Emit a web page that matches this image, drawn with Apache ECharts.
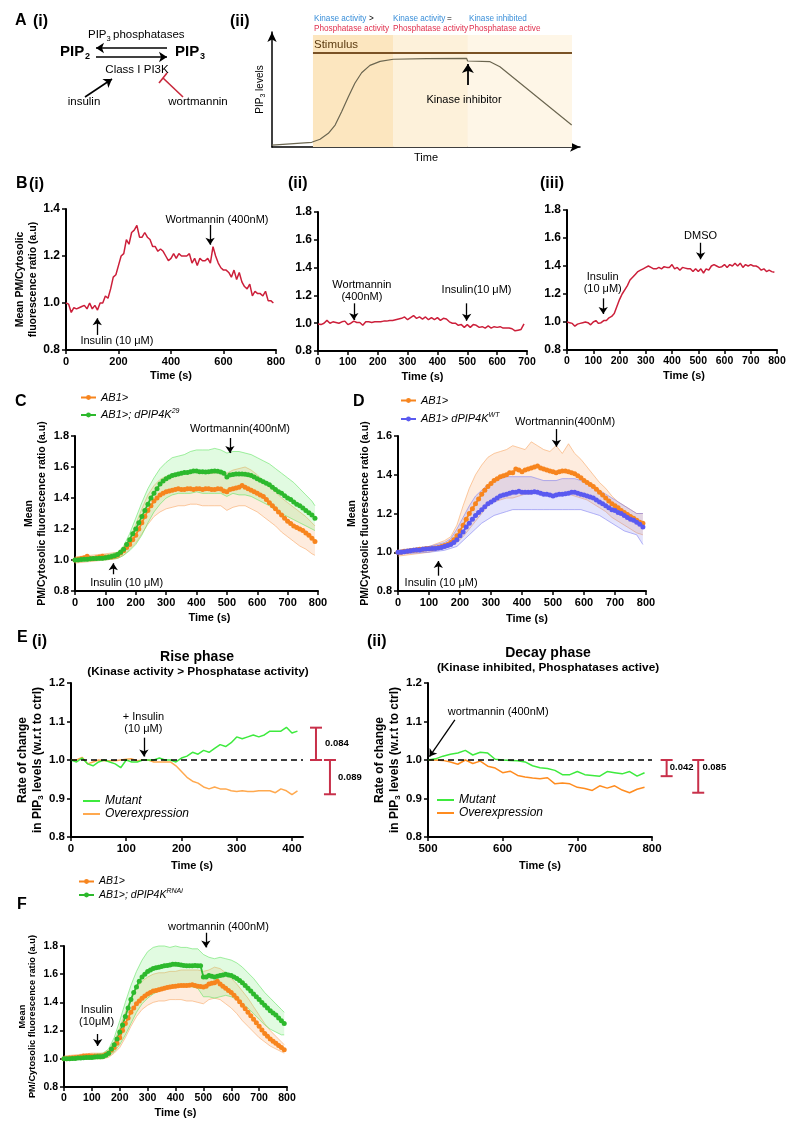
<!DOCTYPE html>
<html>
<head>
<meta charset="utf-8">
<title>PIP3 dynamics</title>
<script src="https://cdn.jsdelivr.net/npm/echarts@6/dist/echarts.min.js"></script>
<style>html,body{margin:0;padding:0;background:#fff;}#chart{width:800px;height:1135px;}</style>
</head>
<body>
<div id="chart"></div>
<script>
// ================= DATA =================
const T80 = [0,10,20,30,40,50,60,70,80,90,100,110,120,130,140,150,160,170,180,190,200,210,220,230,240,250,260,270,280,290,300,310,320,330,340,350,360,370,380,390,400,410,420,430,440,450,460,470,480,490,500,510,520,530,540,550,560,570,580,590,600,610,620,630,640,650,660,670,680,690,700,710,720,730,740,750,760,770,780,790];
const T70 = [0,10,20,30,40,50,60,70,80,90,100,110,120,130,140,150,160,170,180,190,200,210,220,230,240,250,260,270,280,290,300,310,320,330,340,350,360,370,380,390,400,410,420,430,440,450,460,470,480,490,500,510,520,530,540,550,560,570,580,590,600,610,620,630,640,650,660,670,680,690];
const T42 = [0,10,20,30,40,50,60,70,80,90,100,110,120,130,140,150,160,170,180,190,200,210,220,230,240,250,260,270,280,290,300,310,320,330,340,350,360,370,380,390,400,410];
const TE2 = [500,510,520,530,540,550,560,570,580,590,600,610,620,630,640,650,660,670,680,690,700,710,720,730,740,750,760,770,780,790];
const TBAND_CF = [0,100,140,160,180,200,220,240,260,280,300,320,340,360,380,400,420,440,460,480,500,520,540,560,580,600,620,640,660,680,700,720,740,760,780,790];
const TBAND_D = [0,100,150,170,190,210,230,250,270,290,310,330,350,370,390,410,430,450,470,490,510,530,550,570,590,610,630,650,670,690,710,730,750,770,790];

// A(ii) schematic curve (arbitrary units 0-100)
const A_X = [0,12.9,15.6,18.3,20.5,22.6,24.8,26.9,29.1,31.8,35.1,39.4,50.2,63.2,63.5,70.8,74.0,97.3];
const A_Y = [1.7,4.1,6.7,11.9,19.1,30.7,43.7,55.4,64.6,71.0,74.5,76.3,76.8,77.1,74.8,74.2,69.8,19.1];
const A_PHASES = [13.3,39.3,63.6,97.4];
const A_STIM = 81.7;
const A_INHIB = 63.6;

// B
const B1 = [1.00,0.995,0.96,0.98,0.975,0.98,0.985,0.99,0.975,1.00,
 0.975,0.99,0.97,1.00,1.00,1.03,1.02,1.06,1.11,1.12,
 1.16,1.20,1.21,1.27,1.25,1.30,1.31,1.33,1.28,1.28,
 1.30,1.28,1.27,1.24,1.24,1.22,1.23,1.22,1.20,1.18,
 1.19,1.21,1.19,1.21,1.20,1.20,1.20,1.21,1.17,1.19,
 1.16,1.19,1.18,1.18,1.19,1.17,1.24,1.20,1.17,1.15,
 1.14,1.14,1.13,1.11,1.14,1.10,1.13,1.09,1.07,1.06,
 1.08,1.03,1.05,1.04,1.04,1.03,1.05,1.01,1.01,1.00];
const B2 = [0.995,0.99,1.0,1.02,1.0,1.01,1.005,1.0,1.01,1.015,
 0.99,1.0,1.015,1.005,1.005,0.985,1.01,1.01,1.005,1.01,
 1.01,1.01,1.015,1.015,1.02,1.02,1.025,1.03,1.035,1.045,
 1.025,1.04,1.055,1.035,1.045,1.03,1.045,1.025,1.04,1.025,
 1.04,1.02,1.035,1.03,1.01,1.0,1.0,0.985,0.99,0.97,
 0.99,0.97,0.99,0.985,0.97,0.975,0.965,0.98,0.965,0.975,
 0.97,0.975,0.965,0.965,0.965,0.96,0.945,0.95,0.955,0.995];
const B3 = [1.0,0.995,0.99,0.97,0.985,0.99,0.995,1.0,0.995,0.98,
 1.0,1.01,0.99,0.995,1.01,1.01,1.03,1.04,1.06,1.11,
 1.16,1.2,1.23,1.26,1.3,1.32,1.34,1.36,1.37,1.38,
 1.39,1.4,1.39,1.38,1.38,1.39,1.38,1.395,1.39,1.39,
 1.41,1.38,1.39,1.37,1.39,1.385,1.38,1.38,1.36,1.38,
 1.36,1.38,1.35,1.38,1.37,1.40,1.41,1.40,1.39,1.395,
 1.41,1.39,1.41,1.40,1.42,1.40,1.42,1.39,1.41,1.40,
 1.41,1.40,1.40,1.39,1.37,1.38,1.36,1.37,1.36,1.355];

// C
const C_CTRL = [1.000,1.005,1.010,1.015,1.025,1.010,1.010,1.015,1.020,1.025,
 1.020,1.020,1.020,1.025,1.030,1.045,1.060,1.080,1.100,1.130,
 1.160,1.200,1.240,1.280,1.320,1.350,1.380,1.400,1.420,1.430,
 1.440,1.445,1.450,1.455,1.460,1.455,1.455,1.460,1.460,1.455,
 1.460,1.460,1.455,1.460,1.460,1.455,1.455,1.460,1.458,1.445,
 1.440,1.455,1.460,1.465,1.470,1.480,1.470,1.460,1.450,1.440,
 1.430,1.420,1.410,1.390,1.370,1.350,1.330,1.310,1.290,1.270,
 1.250,1.235,1.220,1.210,1.200,1.190,1.175,1.160,1.140,1.120];
const C_MUT = [1.000,1.000,1.003,1.005,1.005,1.008,1.010,1.010,1.012,1.012,
 1.015,1.018,1.022,1.028,1.035,1.050,1.070,1.100,1.130,1.170,
 1.200,1.240,1.280,1.320,1.360,1.400,1.430,1.460,1.490,1.510,
 1.525,1.535,1.545,1.550,1.555,1.560,1.565,1.565,1.570,1.575,
 1.575,1.570,1.570,1.568,1.570,1.572,1.575,1.572,1.568,1.560,
 1.535,1.548,1.552,1.555,1.555,1.555,1.553,1.550,1.545,1.535,
 1.525,1.515,1.505,1.495,1.485,1.470,1.455,1.440,1.430,1.415,
 1.400,1.390,1.375,1.360,1.350,1.335,1.320,1.305,1.290,1.270];
const C_CTRL_LO = [0.98,1.00,1.01,1.03,1.07,1.11,1.17,1.23,1.28,1.31,1.33,1.34,1.35,1.35,1.36,1.36,1.35,1.35,1.35,1.35,1.32,1.34,1.35,1.35,1.33,1.31,1.28,1.25,1.22,1.18,1.15,1.12,1.09,1.07,1.04,1.03];
const C_CTRL_HI = [1.02,1.04,1.05,1.08,1.14,1.23,1.33,1.42,1.48,1.52,1.54,1.55,1.56,1.56,1.57,1.57,1.56,1.56,1.56,1.57,1.56,1.58,1.59,1.60,1.58,1.55,1.51,1.47,1.44,1.40,1.37,1.34,1.31,1.28,1.24,1.22];
const C_MUT_LO = [0.99,1.00,1.01,1.03,1.06,1.10,1.16,1.24,1.31,1.36,1.40,1.42,1.43,1.43,1.43,1.44,1.43,1.43,1.43,1.43,1.41,1.43,1.42,1.42,1.41,1.39,1.37,1.35,1.32,1.30,1.28,1.26,1.24,1.22,1.20,1.19];
const C_MUT_HI = [1.01,1.03,1.05,1.09,1.17,1.27,1.37,1.46,1.53,1.59,1.63,1.66,1.67,1.68,1.70,1.71,1.71,1.71,1.72,1.71,1.69,1.70,1.70,1.69,1.68,1.66,1.64,1.62,1.59,1.56,1.53,1.50,1.46,1.42,1.38,1.35];

// D
const D_CTRL = [1.000,1.000,1.005,1.005,1.008,1.010,1.012,1.015,1.015,1.018,
 1.020,1.020,1.022,1.025,1.030,1.035,1.040,1.050,1.065,1.085,
 1.110,1.140,1.170,1.200,1.225,1.250,1.275,1.300,1.320,1.340,
 1.355,1.370,1.380,1.390,1.395,1.400,1.410,1.410,1.430,1.425,
 1.415,1.425,1.430,1.435,1.440,1.445,1.435,1.430,1.425,1.420,
 1.415,1.410,1.415,1.420,1.420,1.415,1.410,1.405,1.395,1.385,
 1.370,1.360,1.350,1.340,1.325,1.310,1.295,1.280,1.265,1.250,
 1.240,1.230,1.215,1.205,1.195,1.185,1.175,1.165,1.155,1.150];
const D_WT = [1.000,1.000,1.003,1.005,1.008,1.010,1.012,1.012,1.015,1.017,
 1.018,1.020,1.020,1.022,1.025,1.030,1.035,1.040,1.050,1.065,
 1.085,1.105,1.130,1.150,1.170,1.190,1.205,1.220,1.235,1.250,
 1.260,1.270,1.280,1.290,1.295,1.300,1.305,1.310,1.310,1.315,
 1.310,1.310,1.310,1.310,1.312,1.310,1.305,1.300,1.300,1.295,
 1.290,1.295,1.300,1.300,1.302,1.305,1.310,1.310,1.305,1.300,
 1.295,1.290,1.285,1.280,1.270,1.260,1.250,1.240,1.230,1.220,
 1.215,1.205,1.200,1.190,1.180,1.170,1.165,1.155,1.145,1.130];
const D_CTRL_LO = [0.98,1.00,1.02,1.03,1.05,1.08,1.12,1.16,1.20,1.24,1.26,1.27,1.28,1.28,1.29,1.30,1.30,1.31,1.30,1.30,1.29,1.30,1.30,1.29,1.28,1.27,1.25,1.23,1.21,1.18,1.16,1.14,1.12,1.10,1.09];
const D_CTRL_HI = [1.01,1.03,1.06,1.08,1.14,1.24,1.33,1.40,1.45,1.49,1.51,1.52,1.53,1.55,1.54,1.53,1.57,1.55,1.53,1.52,1.55,1.51,1.56,1.51,1.48,1.44,1.40,1.36,1.33,1.29,1.26,1.24,1.22,1.20,1.20];
const D_WT_LO = [0.99,1.00,1.01,1.02,1.03,1.06,1.09,1.12,1.15,1.17,1.19,1.20,1.21,1.22,1.22,1.22,1.22,1.22,1.22,1.22,1.22,1.22,1.22,1.22,1.22,1.21,1.20,1.19,1.17,1.15,1.13,1.11,1.10,1.09,1.04];
const D_WT_HI = [1.01,1.03,1.05,1.07,1.12,1.18,1.24,1.29,1.32,1.35,1.37,1.38,1.39,1.39,1.39,1.39,1.39,1.38,1.37,1.37,1.37,1.38,1.38,1.38,1.37,1.36,1.34,1.32,1.30,1.28,1.26,1.24,1.22,1.20,1.20];

// E
const E1_MUT = [1.0,0.995,1.005,0.99,0.985,0.995,1.0,0.995,0.99,0.98,
 1.0,0.995,0.995,1.0,1.0,1.0,1.005,1.0,1.0,0.995,
 1.005,1.01,1.02,1.015,1.025,1.02,1.03,1.04,1.035,1.045,
 1.06,1.055,1.06,1.065,1.06,1.065,1.075,1.075,1.075,1.085,
 1.07,1.075];
const E1_OE = [1.0,1.0,1.007,0.99,0.995,1.0,0.998,0.998,0.998,1.0,
 1.002,1.003,0.998,1.0,1.0,0.995,0.995,0.995,0.995,0.985,
 0.97,0.955,0.945,0.94,0.93,0.925,0.93,0.925,0.925,0.92,
 0.918,0.92,0.918,0.918,0.92,0.92,0.92,0.915,0.925,0.92,
 0.91,0.92];
const E2_MUT = [1.0,1.003,1.01,1.015,1.018,1.025,1.013,1.02,1.018,1.002,
 1.0,0.999,0.998,0.995,0.985,0.98,0.978,0.973,0.962,0.962,
 0.97,0.962,0.96,0.958,0.97,0.967,0.964,0.97,0.958,0.967];
const E2_OE = [1.0,1.0,0.999,0.995,0.989,1.0,0.991,0.997,0.984,0.979,
 0.967,0.971,0.96,0.956,0.953,0.951,0.954,0.938,0.94,0.938,
 0.929,0.926,0.921,0.933,0.927,0.933,0.922,0.915,0.924,0.929];
const ERR_RISE = [0.084, -0.089];
const ERR_DECAY = [-0.042, -0.085];

// F
const F_CTRL = [1.000,1.000,1.005,1.008,1.010,1.010,1.015,1.020,1.020,1.022,
 1.020,1.020,1.020,1.020,1.022,1.030,1.040,1.060,1.080,1.110,
 1.150,1.200,1.250,1.290,1.330,1.360,1.390,1.410,1.430,1.445,
 1.460,1.470,1.480,1.485,1.490,1.495,1.500,1.505,1.510,1.512,
 1.515,1.518,1.520,1.520,1.520,1.522,1.525,1.520,1.515,1.512,
 1.510,1.515,1.530,1.535,1.540,1.550,1.530,1.515,1.500,1.485,
 1.470,1.450,1.430,1.405,1.380,1.355,1.330,1.305,1.280,1.255,
 1.230,1.205,1.180,1.160,1.140,1.125,1.110,1.095,1.080,1.065];
const F_RNAI = [1.000,1.000,1.000,1.002,1.003,1.005,1.005,1.008,1.010,1.010,
 1.010,1.012,1.015,1.015,1.017,1.025,1.040,1.070,1.100,1.140,
 1.190,1.240,1.300,1.360,1.420,1.470,1.510,1.550,1.580,1.600,
 1.620,1.630,1.640,1.645,1.650,1.655,1.660,1.662,1.665,1.670,
 1.670,1.668,1.665,1.662,1.660,1.660,1.660,1.662,1.660,1.660,
 1.580,1.580,1.590,1.585,1.580,1.585,1.590,1.595,1.600,1.595,
 1.590,1.580,1.570,1.555,1.540,1.520,1.500,1.480,1.460,1.440,
 1.420,1.400,1.380,1.360,1.340,1.325,1.310,1.290,1.270,1.250];
const F_CTRL_LO = [0.99,1.00,1.00,1.01,1.04,1.08,1.15,1.23,1.30,1.35,1.38,1.40,1.41,1.41,1.42,1.42,1.42,1.41,1.41,1.40,1.39,1.42,1.43,1.42,1.39,1.36,1.32,1.27,1.23,1.19,1.15,1.12,1.09,1.07,1.05,1.04];
const F_CTRL_HI = [1.02,1.04,1.04,1.06,1.12,1.22,1.33,1.43,1.50,1.55,1.58,1.60,1.61,1.61,1.62,1.62,1.63,1.63,1.63,1.63,1.62,1.63,1.65,1.64,1.61,1.57,1.53,1.48,1.43,1.37,1.31,1.25,1.20,1.16,1.12,1.10];
const F_RNAI_LO = [0.99,1.00,1.00,1.02,1.05,1.10,1.17,1.25,1.33,1.39,1.43,1.46,1.48,1.50,1.51,1.52,1.52,1.52,1.51,1.50,1.44,1.44,1.43,1.44,1.45,1.44,1.42,1.39,1.36,1.32,1.28,1.24,1.21,1.19,1.17,1.17];
const F_RNAI_HI = [1.01,1.03,1.04,1.07,1.15,1.27,1.40,1.52,1.62,1.70,1.76,1.79,1.80,1.80,1.79,1.80,1.79,1.79,1.78,1.78,1.74,1.72,1.71,1.72,1.71,1.70,1.68,1.65,1.61,1.57,1.52,1.47,1.43,1.39,1.35,1.33];

const X_TICKS_E1 = [0,100,200,300,400];

// ================= STYLE / LAYOUT =================
const FONT = '"Liberation Sans", Arial, Helvetica, sans-serif';
const COL = {
  red:'#CC1F3A', orange:'#F7851E', green:'#2DB92D', blue:'#5A5AF0',
  eGreen:'#3EEA3E', eOrange1:'#FFA94F', eOrange2:'#FF8C1F', err:'#C8304A',
  oBandFill:'rgba(250,160,90,0.20)', oBandLine:'rgba(248,160,90,0.55)',
  gBandFill:'rgba(120,235,120,0.22)', gBandLine:'rgba(100,228,100,0.6)',
  bBandFill:'rgba(130,130,240,0.22)', bBandLine:'rgba(120,120,240,0.55)'
};
const G = {
  A1:{l:0,t:0,w:260,h:150},
  A2:{l:272,t:32,w:308,h:115},
  B1:{l:66,t:209,w:210,h:141},
  B2:{l:318,t:212,w:209,h:139},
  B3:{l:567,t:210,w:210,h:140},
  C:{l:75,t:436,w:243,h:155},
  D:{l:398,t:436,w:248,h:155},
  E1:{l:71,t:683,w:232,h:154},
  E2:{l:428,t:683,w:224,h:154},
  F:{l:64,t:946,w:223,h:141}
};

const grids=[], xAxes=[], yAxes=[], series=[], legends=[], graphics=[];
function zip(t,v){ return t.map((x,i)=>[x,v[i]]); }
function addGrid(g, xa, ya){
  const i = grids.length;
  grids.push({left:g.l, top:g.t, width:g.w, height:g.h});
  xa.gridIndex = i; ya.gridIndex = i;
  xAxes.push(xa); yAxes.push(ya);
  return i;
}
function hiddenAxis(min, max, inverse){ return {type:'value', min:min, max:max, inverse:!!inverse, show:false, splitLine:{show:false}}; }
function axisBase(min, max, interval, fs, fmt){
  return {
    type:'value', min:min, max:max, interval:interval,
    axisLine:{show:true, onZero:false, lineStyle:{color:'#000', width:2}},
    axisTick:{show:true, inside:false, length:4, lineStyle:{color:'#000', width:1.5}},
    axisLabel:{show:true, color:'#000', fontFamily:FONT, fontWeight:'bold', fontSize:fs, margin:6, formatter:fmt},
    splitLine:{show:false}
  };
}
function dataPanel(g, xr, xi, yr, yi, o){
  const xa = axisBase(xr[0], xr[1], xi, o.xfs, v=>String(v));
  xa.name = 'Time (s)'; xa.nameLocation = 'middle'; xa.nameGap = o.xgap;
  xa.nameTextStyle = {fontFamily:FONT, fontWeight:'bold', fontSize:11, color:'#000', padding:o.xpad||0};
  if (o.xCustom){ xa.axisLabel.customValues = o.xCustom; xa.axisTick.customValues = o.xCustom; }
  const ya = axisBase(yr[0], yr[1], yi, o.yfs, v=>v.toFixed(1));
  if (o.yname){
    ya.name = o.yname; ya.nameLocation = 'middle'; ya.nameGap = o.ygap; ya.nameRotate = 90;
    ya.nameTextStyle = Object.assign({fontFamily:FONT, fontWeight:'bold', color:'#000'}, o.ynameStyle);
  }
  return addGrid(g, xa, ya);
}
// annotation layer: same scale as the panel, but a wider extent (stays inside the canvas)
function overlay(g, xr, yr, fr){
  const fl=0.25, ft=0.3, fb=0.3;
  fr = (fr===undefined) ? 0.5 : fr;
  const dx = xr[1]-xr[0], dy = yr[1]-yr[0];
  const og = {l:g.l-fl*g.w, t:g.t-ft*g.h, w:g.w*(1+fl+fr), h:g.h*(1+ft+fb)};
  return addGrid(og, hiddenAxis(xr[0]-fl*dx, xr[1]+fr*dx), hiddenAxis(yr[0]-fb*dy, yr[1]+ft*dy));
}
function annotate(oi, texts, arrows){
  series.push({
    type:'line', xAxisIndex:oi, yAxisIndex:oi, data:[[xAxes[oi].min, yAxes[oi].min]],
    symbol:'none', silent:true, lineStyle:{opacity:0}, z:10, animation:false,
    markPoint:{silent:true, animation:false, symbol:'circle', symbolSize:1, itemStyle:{color:'rgba(0,0,0,0)'},
      data:texts.map(a=>({coord:[a.x,a.y], label:{show:true, position:'inside', formatter:a.text,
        color:a.color||'#000', fontFamily:FONT, fontSize:a.fs||11, fontWeight:a.bold?'bold':'normal',
        lineHeight:a.lh||12, align:'center', verticalAlign:'middle'}}))},
    markLine:{silent:true, animation:false, symbol:['none','arrow'], symbolSize:7, label:{show:false},
      emphasis:{disabled:true}, lineStyle:{color:'#000', width:1.3, type:'solid'},
      data:arrows.map(a=>[{coord:[a.x1,a.y1]},{coord:[a.x2,a.y2]}])}
  });
}
function errBar(oi, x, base, delta){
  series.push({type:'line', xAxisIndex:oi, yAxisIndex:oi, data:[[x,base],[x,base+delta]],
    symbol:'rect', symbolSize:[12,2], showSymbol:true, silent:true, z:9, animation:false,
    lineStyle:{color:COL.err, width:2}, itemStyle:{color:COL.err}});
}
function lineSeries(name, gi, t, v, color, width, withDots){
  const s = {name:name, type:'line', xAxisIndex:gi, yAxisIndex:gi, data:zip(t,v), silent:true,
    symbol: withDots?'circle':'none', symbolSize:5, showSymbol:!!withDots,
    lineStyle:{color:color, width:width}, itemStyle:{color:color}, animation:false};
  series.push(s); return s;
}
// SEM band drawn as a polygon through the axis scales
function band(gi, t, lo, hi, lineCol, fillCol){
  const rows = t.map((x,i)=>[x, lo[i], hi[i]]);
  series.push({type:'custom', xAxisIndex:gi, yAxisIndex:gi, data:rows, silent:true, animation:false,
    encode:{x:0, y:[1,2]},
    renderItem:function(params, api){
      if (params.dataIndex !== 0) return null;
      const top = rows.map(r=>api.coord([r[0], r[2]]));
      const bot = rows.map(r=>api.coord([r[0], r[1]]));
      return {type:'group', children:[
        {type:'polygon', shape:{points:top.concat(bot.slice().reverse())}, style:{fill:fillCol, stroke:null}},
        {type:'polyline', shape:{points:top}, style:{stroke:lineCol, fill:null, lineWidth:1}},
        {type:'polyline', shape:{points:bot}, style:{stroke:lineCol, fill:null, lineWidth:1}}
      ]};
    }});
}
function gtext(text, x, y, o){
  o = o || {};
  const font = (o.italic?'italic ':'') + (o.bold?'bold ':'') + (o.fs||11) + 'px ' + FONT;
  const al = o.align || 'left';
  return {type:'text', x:x, y:y, z:100, silent:true,
    style:{text:text, fill:o.color||'#000', font:font, textAlign:al, textVerticalAlign:'middle', align:al, verticalAlign:'middle'}};
}

// ================= A(i) schematic =================
const a1 = addGrid(G.A1, hiddenAxis(0,260), hiddenAxis(0,150,true));
const A1_LINES = [
  {p:[[167,48],[96,48]], c:'#000', arrow:true},
  {p:[[96,57],[167,57]], c:'#000', arrow:true},
  {p:[[85,97],[112,79]], c:'#000', arrow:true},
  {p:[[183,97],[163,78]], c:'#C8283C', arrow:false},
  {p:[[159,83],[167,73]], c:'#C8283C', arrow:false}
];
series.push({type:'line', xAxisIndex:a1, yAxisIndex:a1, data:[[0,0]], symbol:'none', silent:true, lineStyle:{opacity:0}, animation:false,
  markLine:{silent:true, animation:false, label:{show:false}, emphasis:{disabled:true}, symbol:['none','arrow'], symbolSize:8,
    data:A1_LINES.map(L=>[{coord:L.p[0], symbol:'none', lineStyle:{color:L.c, width:1.6, type:'solid'}},
                          {coord:L.p[1], symbol:L.arrow?'arrow':'none', symbolSize:8}])}});

// ================= A(ii) schematic =================
const a2 = addGrid(G.A2,
  {type:'value', min:0, max:100, axisLine:{show:true, onZero:false, lineStyle:{color:'#000', width:1.5}, symbol:['none','arrow'], symbolSize:[7,10]},
   axisTick:{show:false}, axisLabel:{show:false}, splitLine:{show:false},
   name:'Time', nameLocation:'middle', nameGap:5, nameTextStyle:{fontFamily:FONT, fontSize:11, color:'#000'}},
  {type:'value', min:0, max:100, axisLine:{show:true, onZero:false, lineStyle:{color:'#000', width:1.5}, symbol:['none','arrow'], symbolSize:[7,10]},
   axisTick:{show:false}, axisLabel:{show:false}, splitLine:{show:false},
   name:'{a|PIP}{s|3}{a| levels}', nameLocation:'middle', nameGap:5,
   nameTextStyle:{fontFamily:FONT, fontSize:10, color:'#000', rich:{a:{fontFamily:FONT, fontSize:10, color:'#000', lineHeight:13}, s:{fontFamily:FONT, fontSize:7, color:'#000', lineHeight:7, verticalAlign:'bottom'}}}});
const shadeCols = ['#FCE6BF','#FDF1DA','#FEF6E7'];
series.push({type:'line', xAxisIndex:a2, yAxisIndex:a2, data:zip(A_X, A_Y), symbol:'none', silent:true, animation:false,
  lineStyle:{color:'#6B6650', width:1.2},
  markArea:{silent:true, animation:false, data:[0,1,2].map(i=>[{coord:[A_PHASES[i],0], itemStyle:{color:shadeCols[i]}},{coord:[A_PHASES[i+1],97.4]}])},
  markLine:{silent:true, animation:false, label:{show:false}, emphasis:{disabled:true}, symbol:['none','none'],
    data:[
      [{coord:[A_PHASES[0],A_STIM], symbol:'none', lineStyle:{color:'#7A5225', width:2, type:'solid'}},{coord:[A_PHASES[3],A_STIM], symbol:'none'}],
      [{coord:[A_INHIB,53.9], symbol:'none', lineStyle:{color:'#000', width:1.8, type:'solid'}},{coord:[A_INHIB,72.2], symbol:'arrow', symbolSize:9}]
    ]}});

// ================= B =================
const b1 = dataPanel(G.B1, [0,800], 200, [0.8,1.4], 0.2, {xfs:11, yfs:12, xgap:20,
  yname:'Mean PM/Cytosolic\nfluorescence ratio (a.u)', ygap:25, ynameStyle:{fontSize:10.5, lineHeight:13}});
lineSeries('B(i)', b1, T80, B1, COL.red, 1.5, false);
const b2 = dataPanel(G.B2, [0,700], 100, [0.8,1.8], 0.2, {xfs:10.5, yfs:12, xgap:20});
lineSeries('B(ii)', b2, T70, B2, COL.red, 1.5, false);
const b3 = dataPanel(G.B3, [0,800], 100, [0.8,1.8], 0.2, {xfs:10.5, yfs:12, xgap:20, xpad:[0,0,0,24]});
lineSeries('B(iii)', b3, T80, B3, COL.red, 1.5, false);

// ================= C =================
const yNameMean = 'Mean\nPM/Cytosolic fluorescence ratio (a.u)';
const c = dataPanel(G.C, [0,800], 100, [0.8,1.8], 0.2, {xfs:11, yfs:11, xgap:21, xpad:[0,0,0,26],
  yname:yNameMean, ygap:26, ynameStyle:{fontSize:10.5, lineHeight:13}});
band(c, TBAND_CF, C_CTRL_LO, C_CTRL_HI, COL.oBandLine, COL.oBandFill);
lineSeries('AB1>', c, T80, C_CTRL, COL.orange, 1.8, true);
band(c, TBAND_CF, C_MUT_LO, C_MUT_HI, COL.gBandLine, COL.gBandFill);
lineSeries('AB1>; dPIP4K29', c, T80, C_MUT, COL.green, 1.8, true);

// ================= D =================
const d = dataPanel(G.D, [0,800], 100, [0.8,1.6], 0.2, {xfs:11, yfs:11, xgap:22, xpad:[0,0,0,10],
  yname:yNameMean, ygap:26, ynameStyle:{fontSize:10.5, lineHeight:13}});
band(d, TBAND_D, D_CTRL_LO, D_CTRL_HI, COL.oBandLine, COL.oBandFill);
lineSeries('AB1>', d, T80, D_CTRL, COL.orange, 1.8, true);
band(d, TBAND_D, D_WT_LO, D_WT_HI, COL.bBandLine, COL.bBandFill);
lineSeries('AB1> dPIP4KWT', d, T80, D_WT, COL.blue, 1.8, true);

// ================= E =================
const eYName = '{a|Rate of change}\n{a|in PIP}{s|3}{a| levels (w.r.t to ctrl)}';
const eYStyle = {fontSize:12, rich:{a:{fontFamily:FONT, fontWeight:'bold', fontSize:12, color:'#000', lineHeight:15}, s:{fontFamily:FONT, fontWeight:'bold', fontSize:8, color:'#000', lineHeight:8, verticalAlign:'bottom'}}};
const dashed = {silent:true, animation:false, symbol:'none', label:{show:false}, emphasis:{disabled:true},
  lineStyle:{color:'#000', width:1.6, type:[6,4]}, data:[{yAxis:1}]};
const e1 = dataPanel(G.E1, [0,420], 100, [0.8,1.2], 0.1, {xfs:11.5, yfs:11.5, xgap:23, xpad:[0,0,0,10], xCustom:X_TICKS_E1,
  yname:eYName, ygap:25, ynameStyle:eYStyle});
lineSeries('Overexpression', e1, T42, E1_OE, COL.eOrange1, 1.5, false);
lineSeries('Mutant', e1, T42, E1_MUT, COL.eGreen, 1.5, false).markLine = dashed;
const e2 = dataPanel(G.E2, [500,800], 100, [0.8,1.2], 0.1, {xfs:11.5, yfs:11.5, xgap:23,
  yname:eYName, ygap:25, ynameStyle:eYStyle});
lineSeries('Overexpression ', e2, TE2, E2_OE, COL.eOrange2, 1.5, false);
lineSeries('Mutant ', e2, TE2, E2_MUT, COL.eGreen, 1.5, false).markLine = JSON.parse(JSON.stringify(dashed));

// ================= F =================
const f = dataPanel(G.F, [0,800], 100, [0.8,1.8], 0.2, {xfs:10.5, yfs:10.5, xgap:20,
  yname:yNameMean, ygap:26, ynameStyle:{fontSize:9.3, lineHeight:10.5}});
band(f, TBAND_CF, F_CTRL_LO, F_CTRL_HI, COL.oBandLine, COL.oBandFill);
lineSeries('AB1>', f, T80, F_CTRL, COL.orange, 1.8, true);
band(f, TBAND_CF, F_RNAI_LO, F_RNAI_HI, COL.gBandLine, COL.gBandFill);
lineSeries('AB1>; dPIP4KRNAi', f, T80, F_RNAI, COL.green, 1.8, true);

// ================= annotations (overlay coordinate systems) =================
const oB1 = overlay(G.B1, [0,800], [0.8,1.4]);
annotate(oB1, [{x:575,y:1.353,text:'Wortmannin (400nM)'},{x:194,y:0.838,text:'Insulin (10 μM)'}],
  [{x1:549,y1:1.332,x2:549,y2:1.248},{x1:119,y1:0.864,x2:119,y2:0.935}]);
const oB2 = overlay(G.B2, [0,700], [0.8,1.8]);
annotate(oB2, [{x:147,y:1.229,text:'Wortmannin\n(400nM)'},{x:531,y:1.239,text:'Insulin(10 μM)'}],
  [{x1:120,y1:1.143,x2:120,y2:1.023},{x1:498,y1:1.143,x2:498,y2:1.018}]);
const oB3 = overlay(G.B3, [0,800], [0.8,1.8], 0.05);
annotate(oB3, [{x:136,y:1.28,text:'Insulin\n(10 μM)'},{x:509,y:1.614,text:'DMSO'}],
  [{x1:138,y1:1.169,x2:138,y2:1.057},{x1:509,y1:1.566,x2:509,y2:1.448}]);
const oC = overlay(G.C, [0,800], [0.8,1.8]);
annotate(oC, [{x:543,y:1.845,text:'Wortmannin(400nM)'},{x:170,y:0.85,text:'Insulin (10 μM)'}],
  [{x1:510,y1:1.787,x2:510,y2:1.69},{x1:126,y1:0.908,x2:126,y2:0.979}]);
const oD = overlay(G.D, [0,800], [0.8,1.6]);
annotate(oD, [{x:539,y:1.674,text:'Wortmannin(400nM)'},{x:139,y:0.84,text:'Insulin (10 μM)'}],
  [{x1:511,y1:1.636,x2:511,y2:1.545},{x1:130,y1:0.879,x2:130,y2:0.955}]);
const oE1 = overlay(G.E1, [0,420], [0.8,1.2]);
errBar(oE1, 443.5, 1, ERR_RISE[0]);
errBar(oE1, 468.8, 1, ERR_RISE[1]);
annotate(oE1, [{x:131,y:1.097,text:'+ Insulin\n(10 μM)'},
  {x:481.5,y:1.042,text:Math.abs(ERR_RISE[0]).toFixed(3),bold:true,fs:9.5},
  {x:505,y:0.9555,text:Math.abs(ERR_RISE[1]).toFixed(3),bold:true,fs:9.5}],
  [{x1:132,y1:1.058,x2:132,y2:1.009}]);
const oE2 = overlay(G.E2, [500,800], [0.8,1.2]);
errBar(oE2, 819.6, 1, ERR_DECAY[0]);
errBar(oE2, 861.9, 1, ERR_DECAY[1]);
annotate(oE2, [{x:594,y:1.124,text:'wortmannin (400nM)'},
  {x:839.7,y:0.981,text:Math.abs(ERR_DECAY[0]).toFixed(3),bold:true,fs:9.5},
  {x:883.4,y:0.981,text:Math.abs(ERR_DECAY[1]).toFixed(3),bold:true,fs:9.5}],
  [{x1:536,y1:1.104,x2:502,y2:1.009}]);
const oF = overlay(G.F, [0,800], [0.8,1.8]);
annotate(oF, [{x:554,y:1.933,text:'wortmannin (400nM)'},{x:117,y:1.302,text:'Insulin\n(10μM)'}],
  [{x1:509,y1:1.894,x2:509,y2:1.79},{x1:121,y1:1.176,x2:121,y2:1.091}]);

// ================= legends =================
const SUP = {
  'AB1>; dPIP4K29':'{i|AB1>; dPIP4K}{sup|29}',
  'AB1> dPIP4KWT':'{i|AB1> dPIP4K}{sup|WT}',
  'AB1>; dPIP4KRNAi':'{i|AB1>; dPIP4K}{sup|RNAi}'
};
function legendCfg(names, left, top, gap, fs, iw, ih, icon){
  const L = {data:names, left:left, top:top, orient:'vertical', itemGap:gap, itemWidth:iw, itemHeight:ih,
    selectedMode:false, padding:0, animation:false,
    textStyle:{fontFamily:FONT, fontSize:fs, fontStyle:'italic', color:'#000',
      rich:{i:{fontFamily:FONT, fontSize:fs, fontStyle:'italic', color:'#000', lineHeight:14},
            sup:{fontFamily:FONT, fontSize:7, fontStyle:'italic', color:'#000', lineHeight:8, verticalAlign:'top'}}},
    formatter:n=>SUP[n] ? SUP[n] : '{i|'+n.trim()+'}'};
  if (icon) L.icon = icon;
  return L;
}
legends.push(legendCfg(['AB1>','AB1>; dPIP4K29'], 80, 392, 5, 11, 15, 6));
legends.push(legendCfg(['AB1>','AB1> dPIP4KWT'], 400, 395, 6, 11, 15, 6));
legends.push(legendCfg(['AB1>','AB1>; dPIP4KRNAi'], 78, 876, 1, 10.5, 15, 6));
legends.push(legendCfg(['Mutant','Overexpression'], 83, 795, 1, 12, 17, 2, 'rect'));
legends.push(legendCfg(['Mutant ','Overexpression '], 437, 794, 1, 12, 17, 2, 'rect'));

// ================= texts =================
const PL = {bold:true, fs:16};
graphics.push(
  gtext('A',15,21,PL), gtext('(i)',33,22,PL), gtext('(ii)',230,22,PL),
  gtext('B',16,184,PL), gtext('(i)',29,185,PL), gtext('(ii)',288,184,PL), gtext('(iii)',540,184,PL),
  gtext('C',15,402,PL), gtext('D',353,402,PL),
  gtext('E',17,638,PL), gtext('(i)',32,642,PL), gtext('(ii)',367,642,PL),
  gtext('F',17,905,PL),
  // A(i)
  gtext('PIP',60,52,{bold:true,fs:15}), gtext('2',85,57,{bold:true,fs:9}),
  gtext('PIP',175,52,{bold:true,fs:15}), gtext('3',200,57,{bold:true,fs:9}),
  gtext('PIP',88,35,{fs:11.5}), gtext('3',106.5,38.5,{fs:7.5}), gtext('phosphatases',113,35,{fs:11.5}),
  gtext('Class I PI3K',137,70,{fs:11.5,align:'center'}),
  gtext('insulin',84,102,{fs:11.5,align:'center'}),
  gtext('wortmannin',198,102,{fs:11.5,align:'center'}),
  // A(ii)
  gtext('Kinase activity',314,19,{fs:8.2,color:'#3A8FD9'}), gtext('>',369,19,{fs:8.2}),
  gtext('Phosphatase activity',314,29,{fs:8.2,color:'#E0304E'}),
  gtext('Kinase activity',393,19,{fs:8.2,color:'#3A8FD9'}), gtext('=',447,19,{fs:8.2}),
  gtext('Phosphatase activity',393,29,{fs:8.2,color:'#E0304E'}),
  gtext('Kinase inhibited',469,19,{fs:8.2,color:'#3A8FD9'}),
  gtext('Phosphatase active',469,29,{fs:8.2,color:'#E0304E'}),
  gtext('Stimulus',314,45,{fs:11.5,color:'#5A3A10'}),
  gtext('Kinase inhibitor',464,100,{fs:11,align:'center'}),
  // E titles
  gtext('Rise phase',197,657,{bold:true,fs:14,align:'center'}),
  gtext('(Kinase activity > Phosphatase activity)',198,672,{bold:true,fs:11.8,align:'center'}),
  gtext('Decay phase',548,653,{bold:true,fs:14,align:'center'}),
  gtext('(Kinase inhibited, Phosphatases active)',548,668,{bold:true,fs:11.8,align:'center'})
);

const chart = echarts.init(document.getElementById('chart'), null, {renderer:'canvas'});
chart.setOption({
  animation:false,
  backgroundColor:'#fff',
  textStyle:{fontFamily:FONT},
  grid:grids, xAxis:xAxes, yAxis:yAxes, series:series, legend:legends,
  graphic:{elements:graphics}
});
</script>
</body>
</html>
